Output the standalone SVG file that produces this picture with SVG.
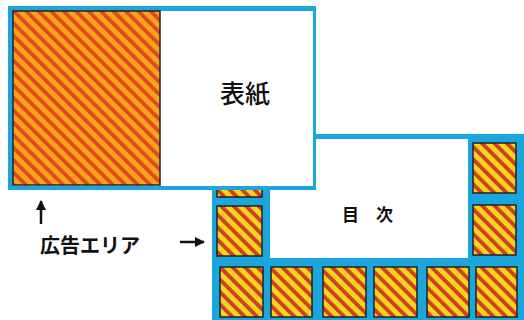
<svg xmlns="http://www.w3.org/2000/svg" width="524" height="320" viewBox="0 0 524 320">
<defs>
<pattern id="hatchO" patternUnits="userSpaceOnUse" width="8.8" height="8.8" patternTransform="rotate(-45)">
<rect width="8.8" height="8.8" fill="#f7a619"/>
<rect width="3.8" height="8.8" fill="#e4481c"/>
</pattern>
<pattern id="hatchY" patternUnits="userSpaceOnUse" width="8.8" height="8.8" patternTransform="rotate(-45)">
<rect width="8.8" height="8.8" fill="#f4d41e"/>
<rect width="3.8" height="8.8" fill="#cf3f1e"/>
</pattern>
<marker id="ah" viewBox="0 0 10 10" refX="9" refY="5" markerWidth="4" markerHeight="4" orient="auto" markerUnits="strokeWidth">
<path d="M0,0 L10,5 L0,10 z" fill="#111"/>
</marker>
<style>
.blue{fill:#1ba6de}
.white{fill:#fff}
.cellO{fill:url(#hatchO);stroke:#222;stroke-width:1.5}
.cellY{fill:url(#hatchY);stroke:#222;stroke-width:1.5}
.conn{stroke:#111;stroke-width:2.5;fill:none;marker-end:url(#ah)}
.jp{font-family:"Noto Sans CJK JP","Noto Sans CJK SC",sans-serif;fill:#111}
</style>
</defs>
<rect width="524" height="320" fill="#fff"/>
<g id="mokuji-page">
<rect class="blue" x="212" y="134" width="312" height="186"/>
<rect class="white" x="270" y="139" width="198" height="119"/>
<rect class="white" x="216" y="139" width="60" height="40"/>
<rect class="cellY" x="217" y="145" width="45" height="52"/>
<rect class="cellY" x="217" y="206" width="45" height="50"/>
<rect class="cellY" x="473" y="143" width="43" height="50"/>
<rect class="cellY" x="473" y="205" width="43" height="50"/>
<rect class="cellY" x="220" y="267" width="43" height="50"/>
<rect class="cellY" x="271" y="267" width="41" height="50"/>
<rect class="cellY" x="323" y="267" width="43" height="50"/>
<rect class="cellY" x="374" y="267" width="43" height="50"/>
<rect class="cellY" x="427" y="267" width="42" height="50"/>
<rect class="cellY" x="476" y="267" width="41" height="50"/>
<text class="jp" x="342" y="221" font-size="17" font-weight="bold">目<tspan x="376">次</tspan></text>
</g>
<g id="hyoshi-page">
<rect class="blue" x="8" y="6" width="308" height="184"/>
<rect class="white" x="13" y="11" width="300" height="175"/>
<rect class="cellO" x="13" y="11" width="147" height="174"/>
<text class="jp" x="245" y="103" font-size="25" font-weight="500" text-anchor="middle">表紙</text>
</g>
<g id="label">
<text class="jp" x="40" y="253" font-size="20" font-weight="bold">広告エリア</text>
</g>
<g id="connectors">
<line class="conn" x1="41" y1="224" x2="41" y2="201"/>
<line class="conn" x1="180" y1="242" x2="204" y2="242"/>
</g>
</svg>
